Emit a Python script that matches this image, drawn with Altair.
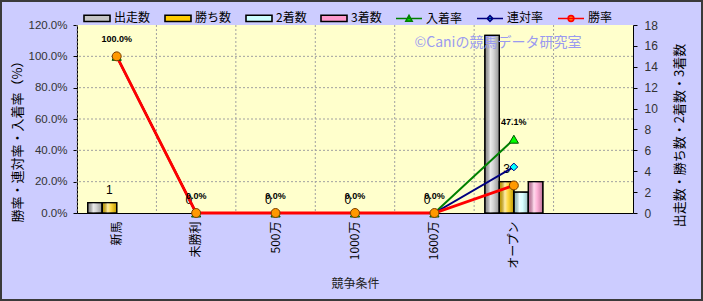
import altair as alt
import pandas as pd

# ---- data ----
categories = ["新馬", "未勝利", "500万", "1000万", "1600万", "オープン"]
slots = categories + [""]
starts = [1, 0, 0, 0, 0, 17]
wins = [1, 0, 0, 0, 0, 3]
seconds = [0, 0, 0, 0, 0, 2]
thirds = [0, 0, 0, 0, 0, 3]
place_rate = [1.0, 0.0, 0.0, 0.0, 0.0, 0.471]
rentai_rate = [1.0, 0.0, 0.0, 0.0, 0.0, 0.294]
win_rate = [1.0, 0.0, 0.0, 0.0, 0.0, 0.176]

bar_series = ["出走数", "勝ち数", "2着数", "3着数"]
line_series = ["入着率", "連対率", "勝率"]
all_series = bar_series + line_series
pct_ticks = [0, 0.2, 0.4, 0.6, 0.8, 1.0, 1.2]
pct_grid = [0.2, 0.4, 0.6, 0.8, 1.0]
count_ticks = [0, 2, 4, 6, 8, 10, 12, 14, 16, 18]
watermark = "©Caniの競馬データ研究室"
left_title = "勝率・連対率・入着率（%）"
right_title = "出走数・勝ち数・2着数・3着数"
x_title = "競争条件"

# ---- styles ----
JP = "Noto Sans CJK JP"
LAT = "Liberation Sans"
bar_fill = ["#C4C4C4", "#FFCC00", "#CCFFFF", "#FF99CC"]
line_color = ["#008000", "#000080", "#FF0000"]
line_width = [2, 2, 2.8]
marker_shape = ["triangle-up", "diamond", "circle"]
marker_fill = ["#00FF00", "#00FFFF", "#FF9900"]
marker_stroke = ["#005000", "#000080", "#7A3D00"]
marker_size = [85, 60, 80]

bar_path = "M-1,-0.24H1V0.24H-1Z"
tri_path = "M-1,0H1M-0.24,0.2L0,-0.24L0.24,0.2Z"
dia_path = "M-1,0H1M-0.22,0L0,-0.22L0.22,0L0,0.22Z"
cir_path = "M-1,0H1M-0.22,0A0.22,0.22 0 1,1 0.22,0A0.22,0.22 0 1,1 -0.22,0Z"

fill_scale = alt.Scale(domain=all_series, range=bar_fill + marker_fill)
stroke_scale = alt.Scale(domain=all_series, range=["#000000"] * 4 + line_color)
shape_scale = alt.Scale(domain=all_series, range=[bar_path] * 4 + [tri_path, dia_path, cir_path])

bar_rows = []
for s, vals in zip(bar_series, [starts, wins, seconds, thirds]):
    for c, v in zip(categories, vals):
        bar_rows.append({"cat": c, "series": s, "value": v})
bar_df = pd.DataFrame(bar_rows)

line_rows = []
for s, vals in zip(line_series, [place_rate, rentai_rate, win_rate]):
    for k, (c, v) in enumerate(zip(categories, vals)):
        line_rows.append({"cat": c, "series": s, "rate": v, "idx": k})
line_df = pd.DataFrame(line_rows)

xscale = alt.Scale(domain=slots, paddingInner=0, paddingOuter=0)
xoff_scale = alt.Scale(domain=bar_series, paddingInner=0, paddingOuter=0.74)
pct_scale = alt.Scale(domain=[0, 1.2], nice=False, zero=True)
cnt_scale = alt.Scale(domain=[0, 18], nice=False, zero=True)

x_axis = alt.Axis(
    title=x_title, labelAngle=270, labelAlign="right", labelBaseline="middle",
    labelFont=JP, labelFontSize=12, labelColor="#000", labelPadding=8,
    ticks=False, domainColor="#000", domainWidth=1, grid=False,
    titleFont=JP, titleFontSize=12, titleFontWeight="normal", titleColor="#222",
    titleY=70, titleBaseline="middle",
)
left_axis = alt.Axis(
    values=pct_ticks, format=".1%", grid=False, title=left_title,
    labelFont=LAT, labelFontSize=11.5, labelColor="#333", labelPadding=6, tickSize=4,
    tickColor="#000", domainColor="#000",
    titleFont=JP, titleFontSize=13, titleFontWeight="normal", titleColor="#000",
    titleAngle=270, titleX=-60, titleY=113, titleAlign="center", titleBaseline="middle",
)
right_axis = alt.Axis(
    orient="right", values=count_ticks, title=right_title, grid=False,
    labelFont=LAT, labelFontSize=12, labelPadding=7, tickSize=4,
    tickColor="#000", domainColor="#000", labelColor="#333",
    titleFont=JP, titleFontSize=13, titleFontWeight="normal", titleColor="#000",
    titleAngle=270, titleX=46, titleY=110, titleAlign="center", titleBaseline="middle",
)
leg = alt.Legend(
    orient="none", legendX=6, legendY=-21, direction="horizontal", columns=7, title=None,
    symbolSize=676, symbolStrokeWidth=1.6, labelFont=JP, labelFontSize=12, labelColor="#000",
    columnPadding=10, labelOffset=3, padding=0,
)

x_enc = alt.X("cat:N", scale=xscale, sort=slots, axis=x_axis)
x_grid_enc = alt.X("cat:N", scale=xscale, sort=slots, axis=x_axis, bandPosition=0)
y_pct = alt.Y("rate:Q", scale=pct_scale, axis=left_axis)
y_cnt = alt.Y("value:Q", scale=cnt_scale, axis=right_axis)

# ---- background group: grid, border ----
slot_df = pd.DataFrame({"cat": slots})
vgrid = alt.Chart(slot_df).mark_rule(color="#A0A0A0", strokeDash=[2, 2], strokeWidth=1).encode(
    x=x_grid_enc
)
hgrid = alt.Chart(pd.DataFrame({"v": pct_grid})).mark_rule(color="#A0A0A0", strokeDash=[2, 2], strokeWidth=1).encode(
    y=alt.Y("v:Q", scale=pct_scale, axis=None)
)
border = alt.Chart(pd.DataFrame({"t": [watermark]})).mark_rect(
    filled=False, fillOpacity=0, stroke="#3A3A3A", strokeWidth=2
).encode(x=alt.value(-76), x2=alt.value(625), y=alt.value(-24), y2=alt.value(275))
bg_group = alt.layer(vgrid, hgrid, border)

# ---- bars group (right axis) ----
grad = alt.Gradient(
    gradient="linear", x1=0, x2=1, y1=0, y2=0,
    stops=[
        alt.GradientStop(color="rgba(0,0,0,0.22)", offset=0),
        alt.GradientStop(color="rgba(255,255,255,0.65)", offset=0.38),
        alt.GradientStop(color="rgba(255,255,255,0.25)", offset=0.6),
        alt.GradientStop(color="rgba(0,0,0,0.25)", offset=1),
    ],
)
bar_base = alt.Chart(bar_df).encode(
    x=x_enc,
    xOffset=alt.XOffset("series:N", scale=xoff_scale, sort=bar_series),
    y=y_cnt,
)
bars = bar_base.transform_filter(alt.datum.value > 0).mark_bar(stroke="#000", strokeWidth=1.2).encode(
    fill=alt.Fill("series:N", scale=fill_scale, legend=leg)
)
bars_shade = bar_base.transform_filter(alt.datum.value > 0).mark_bar(fill=grad, stroke="#000", strokeWidth=1.2)
win_labels = bar_base.transform_filter(alt.datum.series == "勝ち数").mark_text(
    font=LAT, fontSize=12, color="#000", baseline="middle", dy=-13
).encode(text="value:Q")
bars_group = alt.layer(bars, bars_shade, win_labels)

# ---- lines group (left axis) ----
wm = alt.Chart(pd.DataFrame({"t": [watermark]})).mark_text(
    font=JP, fontSize=14, color="#9A9AF0", align="center", baseline="middle"
).encode(text="t:N", x=alt.value(421), y=alt.value(18))

line_layers = []
for i, s in enumerate(line_series):
    line_layers.append(
        alt.Chart(line_df).transform_filter(alt.datum.series == s).mark_line(
            color=line_color[i], strokeWidth=line_width[i]
        ).encode(x=x_enc, y=y_pct, order=alt.Order("idx:Q"))
    )
point_layers = []
for i, s in enumerate(line_series):
    point_layers.append(
        alt.Chart(line_df).transform_filter(alt.datum.series == s).mark_point(
            shape=marker_shape[i], filled=True, fill=marker_fill[i], stroke=marker_stroke[i],
            strokeWidth=1, size=marker_size[i], opacity=1
        ).encode(x=x_enc, y=y_pct)
    )
pct_labels = alt.Chart(line_df).transform_filter(alt.datum.series == "入着率").mark_text(
    font=LAT, fontSize=9, fontWeight="bold", color="#000", baseline="middle", dy=-17
).encode(x=x_enc, y=y_pct, text=alt.Text("rate:Q", format=".1%"))

legend_layer = alt.Chart(line_df).transform_filter("datum.rate > 100").mark_point(
    filled=True, opacity=1
).encode(
    x=x_enc, y=y_pct,
    fill=alt.Fill("series:N", scale=fill_scale, legend=leg),
    stroke=alt.Stroke("series:N", scale=stroke_scale, legend=leg),
    shape=alt.Shape("series:N", scale=shape_scale, legend=leg),
)
lines_group = alt.layer(wm, *line_layers, *point_layers, pct_labels, legend_layer)

chart = alt.layer(bg_group, bars_group, lines_group).resolve_scale(y="independent").properties(
    width=556, height=188,
    autosize=alt.AutoSizeParams(type="none"),
    padding={"left": 77, "top": 25, "right": 70, "bottom": 88},
    background="#CCCCFF",
).configure_view(fill="#FFFFCC", stroke=None)

chart.save("out.html", embed_options={"renderer": "svg", "actions": False})
